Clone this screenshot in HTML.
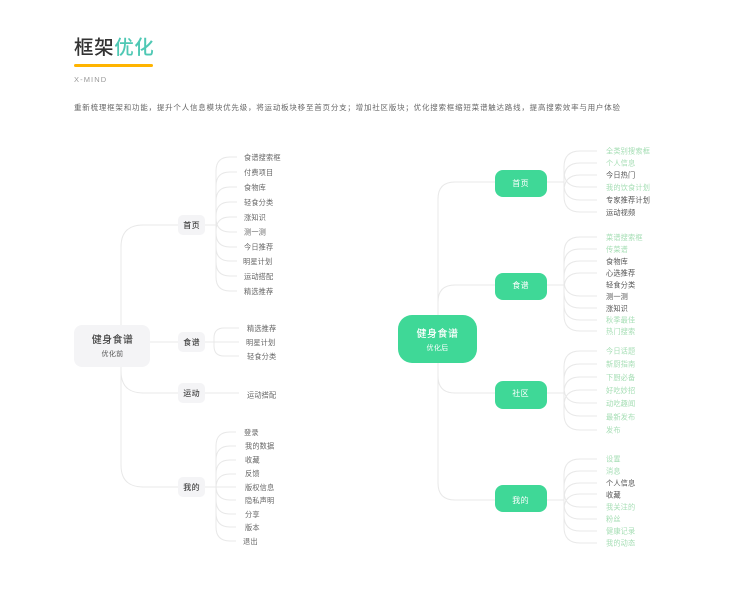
<!DOCTYPE html>
<html lang="zh">
<head>
<meta charset="utf-8">
<title>框架优化</title>
<style>
html,body{margin:0;padding:0;background:#fff}
body{width:750px;height:600px;overflow:hidden}
svg{display:block}
text{font-family:"Liberation Sans","Noto Sans CJK SC",sans-serif}
.l{font-size:7.200px;letter-spacing:.15px;fill:#666}
.d{font-size:7.200px;letter-spacing:.15px;fill:#555}
.g{font-size:7.200px;letter-spacing:.15px;fill:#a5deb4}
.n{font-size:8px;letter-spacing:.4px;fill:#444;text-anchor:middle;font-weight:500}
.w{font-size:8px;letter-spacing:.4px;fill:#fff;text-anchor:middle}
.c{fill:none;stroke:#e8e8e8;stroke-width:1}
</style>
</head>
<body>
<svg width="750" height="600" viewBox="0 0 750 600" xmlns="http://www.w3.org/2000/svg">
<rect width="750" height="600" fill="#fff"/>

<text x="74" y="54" font-size="19.500" letter-spacing=".6" font-weight="500" fill="#333">框架<tspan fill="#4fc8b4">优化</tspan></text>
<rect x="74" y="64" width="79" height="3" rx="1.5" fill="#ffb400"/>
<text x="74" y="82" font-size="7.500" letter-spacing="1.100" fill="#999">X-MIND</text>
<text x="74" y="110" font-size="7.500" fill="#666" textLength="546" lengthAdjust="spacing">重新梳理框架和功能，提升个人信息模块优先级，将运动板块移至首页分支；增加社区版块；优化搜索框缩短菜谱触达路线，提高搜索效率与用户体验</text>

<!-- left connectors -->
<path class="c" d="M121 325V247Q121 225 143 225H178M150 342H178M121 367V371Q121 393 143 393H178M121 367V465Q121 487 143 487H178"/>
<path class="c" d="M205 225H216M216 171V277M216 171Q216 157 230 157H237M216 186Q216 172 230 172H237M216 201Q216 187 230 187H237M216 216Q216 202 230 202H237M216 231Q216 217 230 217H237M216 218Q216 232 230 232H237M216 233Q216 247 230 247H237M216 247Q216 261 230 261H237M216 262Q216 276 230 276H237M216 277Q216 291 230 291H237"/>
<path class="c" d="M205 342H239M214 338V346M214 338Q214 328 224 328H239M214 346Q214 356 224 356H239"/>
<path class="c" d="M205 393H239"/>
<path class="c" d="M205 487H236M216 446V527M216 446Q216 432 230 432H236M216 460Q216 446 230 446H236M216 474Q216 460 230 460H236M216 488Q216 474 230 474H236M216 486Q216 500 230 500H236M216 500Q216 514 230 514H236M216 513Q216 527 230 527H236M216 527Q216 541 230 541H236"/>

<!-- left nodes -->
<rect x="74" y="325" width="76" height="42" rx="8" fill="#f4f4f6"/>
<text x="112.500" y="343" font-size="10" letter-spacing=".4" fill="#444" text-anchor="middle" font-weight="500">健身食谱</text>
<text x="112.500" y="356" font-size="7" letter-spacing=".3" fill="#555" text-anchor="middle">优化前</text>
<rect x="178" y="215" width="27" height="20" rx="5" fill="#f4f4f6"/>
<text class="n" x="191.700" y="228">首页</text>
<rect x="178" y="332" width="27" height="20" rx="5" fill="#f4f4f6"/>
<text class="n" x="191.700" y="345">食谱</text>
<rect x="178" y="383" width="27" height="20" rx="5" fill="#f4f4f6"/>
<text class="n" x="191.700" y="396">运动</text>
<rect x="178" y="477" width="27" height="20" rx="5" fill="#f4f4f6"/>
<text class="n" x="191.700" y="490">我的</text>

<!-- left labels -->
<text class="l" x="244" y="160">食谱搜索框</text>
<text class="l" x="244" y="175">付费项目</text>
<text class="l" x="244" y="190">食物库</text>
<text class="l" x="244" y="205">轻食分类</text>
<text class="l" x="244" y="220">涨知识</text>
<text class="l" x="244" y="234.500">测一测</text>
<text class="l" x="244" y="249.500">今日推荐</text>
<text class="l" x="243" y="264">明星计划</text>
<text class="l" x="244" y="279">运动搭配</text>
<text class="l" x="244" y="294">精选推荐</text>

<text class="l" x="247" y="331">精选推荐</text>
<text class="l" x="246" y="345">明星计划</text>
<text class="l" x="247" y="359">轻食分类</text>
<text class="l" x="247" y="397.500">运动搭配</text>

<text class="l" x="244" y="435">登录</text>
<text class="l" x="245" y="448.500">我的数据</text>
<text class="l" x="245" y="462.500">收藏</text>
<text class="l" x="245" y="476">反馈</text>
<text class="l" x="245" y="490">版权信息</text>
<text class="l" x="245" y="503">隐私声明</text>
<text class="l" x="245" y="517">分享</text>
<text class="l" x="245" y="530">版本</text>
<text class="l" x="243" y="544">退出</text>

<!-- right connectors -->
<path class="c" d="M438 315V199Q438 182 455 182H495M438 315V302Q438 285 455 285H495M438 363V376Q438 393 455 393H495M438 363V483Q438 500 455 500H495"/>
<path class="c" d="M546 182H564M564 167V196M564 167Q564 151 580 151H597M564 179Q564 163 580 163H597M564 191Q564 175 580 175H597M564 171Q564 187 580 187H597M564 184Q564 200 580 200H597M564 196Q564 212 580 212H597"/>
<path class="c" d="M546 285H564M564 253V315M564 253Q564 237 580 237H597M564 265Q564 249 580 249H597M564 277Q564 261 580 261H597M564 289Q564 273 580 273H597M564 280Q564 296 580 296H597M564 292Q564 308 580 308H597M564 304Q564 320 580 320H597M564 315Q564 331 580 331H597"/>
<path class="c" d="M546 393H564M564 367V414M564 367Q564 351 580 351H597M564 380Q564 364 580 364H597M564 393Q564 377 580 377H597M564 406Q564 390 580 390H597M564 387Q564 403 580 403H597M564 400Q564 416 580 416H597M564 414Q564 430 580 430H597"/>
<path class="c" d="M546 500H564M564 475V527M564 475Q564 459 580 459H597M564 487Q564 471 580 471H597M564 499Q564 483 580 483H597M564 510Q564 494 580 494H597M564 491Q564 507 580 507H597M564 503Q564 519 580 519H597M564 515Q564 531 580 531H597M564 527Q564 543 580 543H597"/>

<!-- right nodes -->
<rect x="398" y="315" width="79" height="48" rx="14" fill="#3fd897"/>
<text x="437.500" y="337" font-size="10" letter-spacing=".5" fill="#fff" text-anchor="middle" font-weight="500">健身食谱</text>
<text x="437.500" y="350" font-size="7" letter-spacing=".3" fill="#fff" text-anchor="middle">优化后</text>
<rect x="495" y="170" width="52" height="27" rx="8" fill="#3fd897"/>
<text class="w" x="520.700" y="186">首页</text>
<rect x="495" y="273" width="52" height="27" rx="8" fill="#3fd897"/>
<text class="w" x="520.700" y="288">食谱</text>
<rect x="495" y="381" width="52" height="28" rx="8" fill="#3fd897"/>
<text class="w" x="520.700" y="396">社区</text>
<rect x="495" y="485" width="52" height="27" rx="8" fill="#3fd897"/>
<text class="w" x="520.700" y="503">我的</text>

<!-- right labels -->
<text class="g" x="606" y="153.500">全类别搜索框</text>
<text class="g" x="606" y="165.500">个人信息</text>
<text class="d" x="606" y="177.500">今日热门</text>
<text class="g" x="606" y="190">我的饮食计划</text>
<text class="d" x="606" y="202.500">专家推荐计划</text>
<text class="d" x="606" y="215">运动视频</text>

<text class="g" x="606" y="240">菜谱搜索框</text>
<text class="g" x="606" y="252">传菜谱</text>
<text class="d" x="606" y="264">食物库</text>
<text class="d" x="606" y="275.500">心选推荐</text>
<text class="d" x="606" y="287.500">轻食分类</text>
<text class="d" x="606" y="299">测一测</text>
<text class="d" x="606" y="311">涨知识</text>
<text class="g" x="606" y="322.500">秋季最佳</text>
<text class="g" x="606" y="334">热门搜索</text>

<text class="g" x="606" y="353.500">今日话题</text>
<text class="g" x="606" y="366.500">新厨指南</text>
<text class="g" x="606" y="380">下厨必备</text>
<text class="g" x="606" y="393">好吃妙招</text>
<text class="g" x="606" y="406">动吃趣闻</text>
<text class="g" x="606" y="419.500">最新发布</text>
<text class="g" x="606" y="432.500">发布</text>

<text class="g" x="606" y="461.500">设置</text>
<text class="g" x="606" y="473.500">消息</text>
<text class="d" x="606" y="485.500">个人信息</text>
<text class="d" x="606" y="497.500">收藏</text>
<text class="g" x="606" y="509.500">我关注的</text>
<text class="g" x="606" y="521.500">粉丝</text>
<text class="g" x="606" y="533.500">健康记录</text>
<text class="g" x="606" y="545.500">我的动态</text>
</svg>
</body>
</html>
